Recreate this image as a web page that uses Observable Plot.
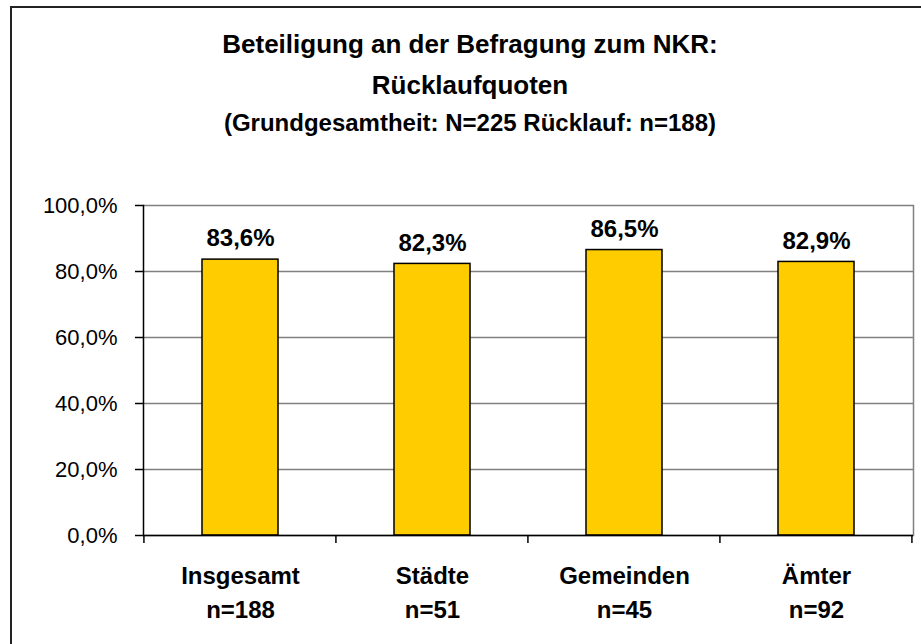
<!DOCTYPE html>
<html><head><meta charset="utf-8">
<script src="https://cdn.jsdelivr.net/npm/d3@7"></script>
<script src="https://cdn.jsdelivr.net/npm/@observablehq/plot@0.6"></script>
<style>
body{margin:0;background:#fff;}
#wrap{position:relative;width:921px;height:644px;overflow:hidden;font-family:"Liberation Sans",Arial,sans-serif;color:#000;}
#frame{position:absolute;left:10px;top:6px;width:1000px;height:700px;border:2px solid #222;box-sizing:border-box;}
#chart{position:absolute;left:0;top:0;}
.t{position:absolute;left:0;width:940px;text-align:center;font-weight:bold;white-space:nowrap;}
</style></head><body>
<div id="wrap"><div id="frame"></div><div id="chart"></div>
<div class="t" style="top:27px;font-size:26px;line-height:34px;" id="t1"></div>
<div class="t" style="top:68px;font-size:26px;line-height:34px;" id="t2"></div>
<div class="t" style="top:108px;font-size:24px;line-height:30px;" id="t3"></div>
</div>
<script>
const titleLines = ["Beteiligung an der Befragung zum NKR:", "Rücklaufquoten", "(Grundgesamtheit: N=225 Rücklauf: n=188)"];
const categories = ["Insgesamt", "Städte", "Gemeinden", "Ämter"];
const counts = ["n=188", "n=51", "n=45", "n=92"];
const values = [83.6, 82.3, 86.5, 82.9];
const yTicks = [0, 20, 40, 60, 80, 100];

document.getElementById("t1").textContent = titleLines[0];
document.getElementById("t2").textContent = titleLines[1];
document.getElementById("t3").textContent = titleLines[2];

const data = categories.map((c, i) => ({cat: c, n: counts[i], v: values[i]}));
const fmt = v => v.toFixed(1).replace(".", ",") + "%";
const font = '"Liberation Sans", Arial, sans-serif';
const padInner = 0.605;

const boundaryTicks = (index, scales, values, dimensions, context) => {
  const x = scales.x, y = scales.y;
  const xs = categories.map(c => x(c));
  const step = xs[1] - xs[0];
  const first = xs[0] - step * padInner / 2;
  const g = d3.create("svg:g");
  const y0 = y(0);
  for (let i = 0; i <= categories.length; i++) {
    const px = first + i * step;
    g.append("line").attr("x1", px).attr("x2", px).attr("y1", y0).attr("y2", y0 + 8)
      .attr("stroke", "#000").attr("stroke-width", 1.5);
  }
  return g.node();
};

const chart = Plot.plot({
  width: 921, height: 644,
  marginLeft: 143, marginRight: 8, marginTop: 205, marginBottom: 109,
  style: {fontFamily: font, background: "transparent", color: "#000", overflow: "visible"},
  x: {domain: categories, paddingInner: padInner, paddingOuter: padInner / 2, axis: null, label: null},
  y: {domain: [0, 100], axis: null, label: null},
  marks: [
    Plot.gridY(yTicks, {stroke: "#808080", strokeOpacity: 1, strokeWidth: 1.5}),
    Plot.frame({anchor: "right", stroke: "#808080", strokeWidth: 1.5}),
    Plot.barY(data, {x: "cat", y: "v", fill: "#FFCC00", stroke: "#000", strokeWidth: 1.5}),
    Plot.frame({anchor: "left", stroke: "#000", strokeWidth: 1.5}),
    Plot.ruleY([0], {stroke: "#000", strokeWidth: 1.5}),
    Plot.axisY(yTicks, {label: null, tickSize: 8, tickPadding: 18, tickFormat: fmt, fontSize: 22, stroke: "#000", strokeWidth: 1.5, fill: "#000"}),
    boundaryTicks,
    Plot.text(data, {x: "cat", y: "v", text: d => fmt(d.v), dy: -21, fontSize: 24, fontWeight: "bold", fill: "#000"}),
    Plot.text(data, {x: "cat", text: d => d.cat + "\n" + d.n, frameAnchor: "bottom", lineAnchor: "top", dy: 24, lineHeight: 1.42, fontSize: 24, fontWeight: "bold", fill: "#000"})
  ]
});
document.getElementById("chart").appendChild(chart);
</script>
</body></html>
